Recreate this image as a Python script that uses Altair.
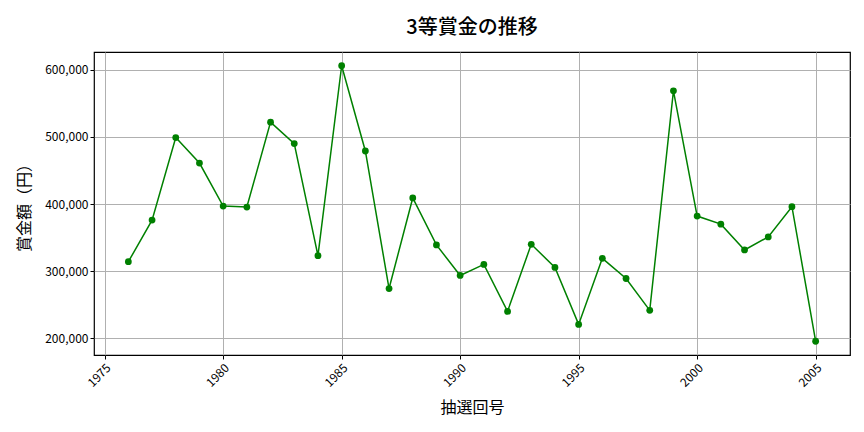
import altair as alt
import pandas as pd

years = list(range(1976, 2006))
prizes = [314000, 376000, 499000, 461000, 397000, 395500, 522000, 490000, 323000, 606000,
          479000, 274000, 409000, 339000, 293500, 310000, 240000, 340000, 305500, 220600,
          319000, 289000, 241500, 568700, 382000, 370000, 331500, 351000, 396000, 195500]
x_ticks = [1975, 1980, 1985, 1990, 1995, 2000, 2005]
y_ticks = [200000, 300000, 400000, 500000, 600000]

df = pd.DataFrame({"year": years, "prize": prizes})

FONT = "Noto Sans CJK JP"

x = alt.X("year:Q", scale=alt.Scale(domain=[1974.55, 2006.45], nice=False, zero=False),
          axis=alt.Axis(values=x_ticks, format="d", title="抽選回号", labelAngle=-45,
                        labelAlign="right", labelBaseline="top", labelPadding=3,
                        titleFontSize=16, titleFontWeight="normal", titlePadding=11,
                        labelFontSize=12, tickSize=4, labelColor="black", titleColor="black",
                        tickColor="black", domain=False, grid=True, gridColor="#b0b0b0"))
y = alt.Y("prize:Q", scale=alt.Scale(domain=[175000, 626500], nice=False, zero=False),
          axis=alt.Axis(values=y_ticks, format=",d", title="賞金額（円）",
                        titleFontSize=16, titleFontWeight="normal", titlePadding=12,
                        labelFontSize=12, tickSize=4, labelColor="black", titleColor="black",
                        tickColor="black", domain=False, grid=True, gridColor="#b0b0b0"))

base = alt.Chart(df)
line = base.mark_line(color="#008000", strokeWidth=1.5).encode(x=x, y=y)
pts = base.mark_circle(color="#008000", size=46, opacity=1).encode(x=x, y=y)

chart = (line + pts).properties(
    width=756, height=303,
    title=alt.TitleParams("3等賞金の推移", fontSize=20, fontWeight=500, font=FONT,
                          color="black", offset=14),
    autosize=alt.AutoSizeParams(type="none"),
    padding={"left": 86, "top": 44, "right": 6, "bottom": 69},
).configure(font=FONT).configure_view(stroke="black", strokeWidth=1.2)

chart.save("out.html", embed_options={"renderer": "svg", "actions": False})
